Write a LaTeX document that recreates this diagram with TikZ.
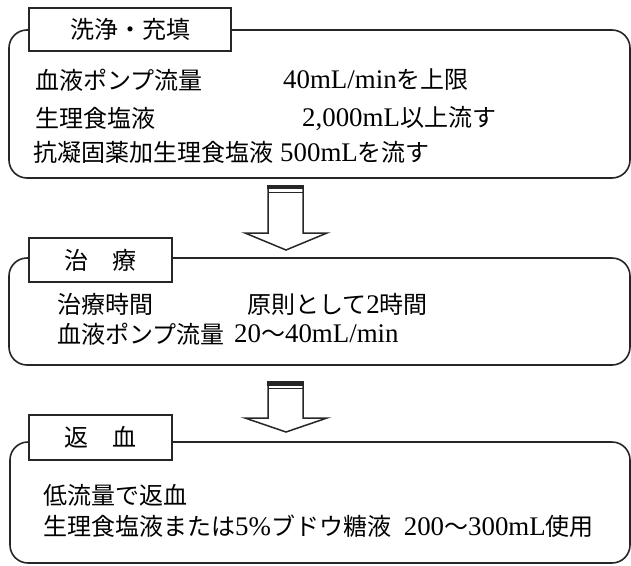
\documentclass[tikz,border=0pt]{standalone}
\usepackage{fontspec}
\setmainfont{Noto Sans CJK JP}
\newfontfamily\lat[Scale=1.12]{Liberation Serif}
\begin{document}
\begin{tikzpicture}[x=1pt,y=-1pt,
  font=\fontsize{24}{24}\selectfont,
  frame/.style={draw=black!85, line width=1.6pt, rounded corners=18pt},
  tab/.style={draw=black!85, line width=1.6pt, fill=white, inner sep=0pt},
  txt/.style={anchor=west, inner sep=0pt},
  txtr/.style={anchor=east, inner sep=0pt},
  arrowbody/.style={draw=black!85, line width=1.5pt, fill=white, line join=miter}]
\useasboundingbox (0,0) rectangle (631,565);

% box 1
\draw[frame] (9,30) rectangle (630,178);
\node[tab, minimum width=202pt, minimum height=43pt] (t1) at (130,29.5) {洗浄・充填};
\node[txt] (a1) at (35,80) {血液ポンプ流量};
\node[txt] (a2) at (283,80) {{\lat 40mL/min}を上限};
\node[txt] (a3) at (35,118) {生理食塩液};
\node[txt] (a4) at (302,118) {{\lat 2,000mL}以上流す};
\node[txt] (a5) at (33,152) {抗凝固薬加生理食塩液\hspace{7pt}{\lat 500mL}を流す};

% arrow 1
\draw[arrowbody] (268,186) -- (268,233) -- (245,233) -- (286,250) -- (327,233) -- (303,233) -- (303,186) -- cycle;
\fill[black!85] (267,184.5) rectangle (304,189);
\draw[black!85, line width=1pt] (268,192) -- (303,192);

% box 2
\draw[frame] (9,258) rectangle (630,365);
\node[tab, minimum width=143pt, minimum height=44pt] (t2) at (100.5,260) {治　療};
\node[txt] (b1) at (57,304) {治療時間};
\node[txt] (b2) at (247,304) {原則として{\lat 2}時間};
\node[txt] (b3) at (57,334) {血液ポンプ流量};
\node[txt] (b4) at (234,334) {{\lat 20}～{\lat 40mL/min}};

% arrow 2
\draw[arrowbody] (268,382) -- (268,418) -- (245,418) -- (286,432) -- (327,418) -- (303,418) -- (303,382) -- cycle;
\fill[black!85] (267,381) rectangle (304,385.5);
\draw[black!85, line width=1pt] (268,388.5) -- (303,388.5);

% box 3
\draw[frame] (10,442) rectangle (630,563);
\node[tab, minimum width=143pt, minimum height=45pt] (t3) at (100.5,437.5) {返　血};
\node[txt] (c1) at (43,495) {低流量で返血};
\node[txt] (c2) at (43,526) {生理食塩液または{\lat 5\%}ブドウ糖液};
\node[txtr] (c3) at (594,526) {{\lat 200}～{\lat 300mL}使用};
\end{tikzpicture}
\end{document}
